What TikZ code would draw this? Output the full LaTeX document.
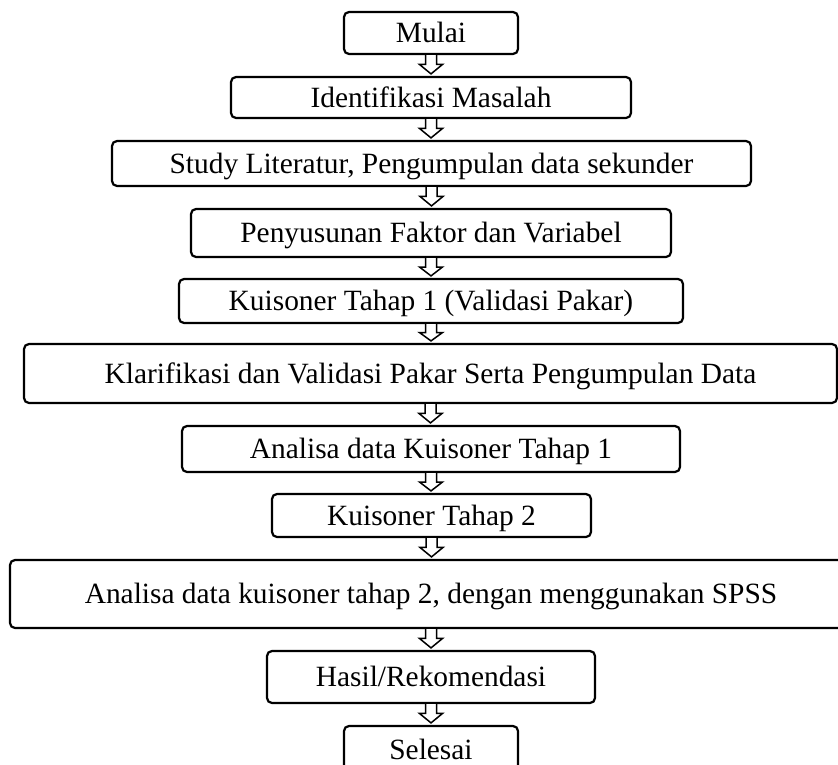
\documentclass[tikz,border=0pt]{standalone}
\usepackage{fontspec}
\setmainfont{Liberation Serif}
\usetikzlibrary{calc}
\tikzset{
  box/.style={draw=black, line width=2.2pt, rounded corners=5pt, fill=white,
    inner sep=0pt, text height=19.5pt, text depth=0pt, align=center,
    font=\fontsize{29.4pt}{33pt}\selectfont},
  arr/.style={draw=black, line width=1.5pt, fill=white, line join=miter},
}
\newcommand\flowarrow[2]{%
  \draw[arr] let \p1=(#1.south), \p2=(#2.north), \n1={\y1-\y2} in
    (\x1-5.5pt,\y1) -- (\x1-5.5pt,{\y1-0.45*\n1}) -- (\x1-11.5pt,{\y1-0.45*\n1})
    -- (\x1,{\y2+2pt}) -- (\x1+11.5pt,{\y1-0.45*\n1}) -- (\x1+5.5pt,{\y1-0.45*\n1})
    -- (\x1+5.5pt,\y1);}
\begin{document}
\begin{tikzpicture}[x=1pt,y=-1pt]
\clip (0,0) rectangle (838,765);
\fill[white] (0,0) rectangle (838,765);
\node[box, minimum width=174pt, minimum height=42pt] (n1) at (431,33) {Mulai};
\node[box, minimum width=400pt, minimum height=41pt] (n2) at (431,97.5) {Identifikasi Masalah};
\node[box, minimum width=639pt, minimum height=45pt] (n3) at (431.5,163.5) {Study Literatur, Pengumpulan data sekunder};
\node[box, minimum width=480pt, minimum height=48pt] (n4) at (431,233) {Penyusunan Faktor dan Variabel};
\node[box, minimum width=504pt, minimum height=44pt] (n5) at (431,301) {Kuisoner Tahap 1 (Validasi Pakar)};
\node[box, minimum width=813pt, minimum height=59pt] (n6) at (430.5,373.5) {Klarifikasi dan Validasi Pakar Serta Pengumpulan Data};
\node[box, minimum width=498pt, minimum height=46pt] (n7) at (431,449) {Analisa data Kuisoner Tahap 1};
\node[box, minimum width=319pt, minimum height=43pt] (n8) at (431.5,515.5) {Kuisoner Tahap 2};
\node[box, minimum width=842pt, minimum height=68pt] (n9) at (431,594) {Analisa data kuisoner tahap 2, dengan menggunakan SPSS};
\node[box, minimum width=328pt, minimum height=52pt] (n10) at (431,677) {Hasil/Rekomendasi};
\node[box, minimum width=174pt, minimum height=48pt] (n11) at (431,750) {Selesai};
\flowarrow{n1}{n2}
\flowarrow{n2}{n3}
\flowarrow{n3}{n4}
\flowarrow{n4}{n5}
\flowarrow{n5}{n6}
\flowarrow{n6}{n7}
\flowarrow{n7}{n8}
\flowarrow{n8}{n9}
\flowarrow{n9}{n10}
\flowarrow{n10}{n11}
\end{tikzpicture}
\end{document}
